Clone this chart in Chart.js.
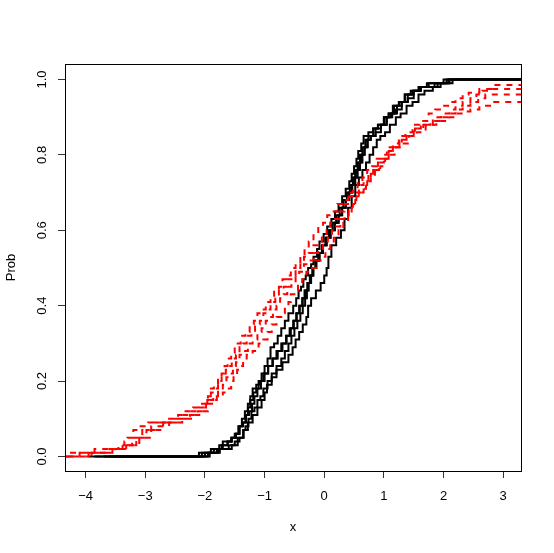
<!DOCTYPE html>
<html>
<head>
<meta charset="utf-8">
<script src="https://cdn.jsdelivr.net/npm/chart.js@4/dist/chart.umd.min.js"></script>
<style>
  html, body { margin: 0; padding: 0; background: #fff; }
  #wrap { width: 554px; height: 553px; position: relative; }
</style>
</head>
<body>
<div id="wrap"><canvas id="ecdfChart" width="554" height="553"></canvas></div>
<script>
// ECDF knots: [x, cumulative probability]
const black1 = [[-3.95,0],[-2.1,0.01],[-1.8,0.02],[-1.7,0.03],[-1.62,0.04],[-1.55,0.05],[-1.5,0.06],[-1.44,0.08],[-1.38,0.1],[-1.33,0.12],[-1.28,0.14],[-1.24,0.16],[-1.2,0.18],[-1.1,0.2],[-1.05,0.22],[-1.0,0.24],[-0.95,0.26],[-0.9,0.29],[-0.84,0.3],[-0.78,0.32],[-0.72,0.34],[-0.66,0.36],[-0.6,0.38],[-0.52,0.4],[-0.47,0.42],[-0.43,0.44],[-0.39,0.45],[-0.35,0.47],[-0.31,0.48],[-0.27,0.5],[-0.22,0.51],[-0.18,0.53],[-0.12,0.55],[-0.08,0.57],[-0.01,0.59],[0.05,0.61],[0.12,0.63],[0.18,0.65],[0.24,0.67],[0.3,0.69],[0.36,0.71],[0.42,0.73],[0.46,0.75],[0.5,0.77],[0.54,0.79],[0.57,0.81],[0.62,0.83],[0.66,0.85],[0.74,0.86],[0.82,0.87],[0.9,0.88],[1.0,0.9],[1.08,0.91],[1.15,0.93],[1.25,0.94],[1.35,0.96],[1.48,0.97],[1.6,0.98],[1.85,0.99],[2.05,1.0],[3.5,1.0]];
const black2 = [[-3.6,0],[-1.95,0.01],[-1.75,0.02],[-1.55,0.03],[-1.45,0.05],[-1.35,0.07],[-1.28,0.09],[-1.2,0.11],[-1.12,0.13],[-1.05,0.15],[-1.0,0.17],[-0.96,0.19],[-0.88,0.21],[-0.8,0.23],[-0.7,0.25],[-0.6,0.27],[-0.53,0.29],[-0.48,0.31],[-0.42,0.33],[-0.36,0.35],[-0.3,0.37],[-0.27,0.4],[-0.22,0.42],[-0.14,0.44],[-0.06,0.46],[0.0,0.48],[0.04,0.5],[0.07,0.53],[0.12,0.56],[0.2,0.58],[0.28,0.6],[0.34,0.63],[0.4,0.66],[0.46,0.69],[0.52,0.72],[0.58,0.74],[0.64,0.76],[0.7,0.78],[0.76,0.8],[0.82,0.82],[0.88,0.84],[0.94,0.85],[1.02,0.86],[1.1,0.88],[1.2,0.9],[1.28,0.91],[1.38,0.93],[1.48,0.94],[1.58,0.96],[1.68,0.97],[1.82,0.98],[1.95,0.99],[2.15,1.0],[3.5,1.0]];
const black3 = [[-3.85,0],[-2.0,0.01],[-1.85,0.02],[-1.76,0.03],[-1.7,0.04],[-1.56,0.05],[-1.48,0.06],[-1.42,0.08],[-1.36,0.09],[-1.31,0.11],[-1.26,0.12],[-1.21,0.14],[-1.17,0.16],[-1.12,0.18],[-1.06,0.2],[-1.0,0.22],[-0.94,0.24],[-0.87,0.26],[-0.8,0.28],[-0.72,0.3],[-0.64,0.32],[-0.58,0.34],[-0.52,0.36],[-0.47,0.38],[-0.42,0.4],[-0.37,0.42],[-0.33,0.44],[-0.28,0.46],[-0.24,0.48],[-0.19,0.5],[-0.14,0.52],[-0.08,0.54],[-0.03,0.56],[0.04,0.58],[0.1,0.6],[0.17,0.62],[0.24,0.64],[0.3,0.66],[0.36,0.68],[0.41,0.7],[0.46,0.72],[0.5,0.74],[0.55,0.76],[0.58,0.78],[0.62,0.8],[0.67,0.82],[0.72,0.84],[0.78,0.85],[0.86,0.87],[0.95,0.88],[1.05,0.9],[1.14,0.91],[1.22,0.93],[1.3,0.94],[1.4,0.96],[1.5,0.97],[1.62,0.98],[1.9,0.99],[2.1,1.0],[3.5,1.0]];
const black4 = [[-3.5,0],[-1.92,0.01],[-1.78,0.02],[-1.6,0.03],[-1.5,0.04],[-1.42,0.05],[-1.36,0.07],[-1.32,0.08],[-1.27,0.1],[-1.22,0.12],[-1.17,0.13],[-1.12,0.15],[-1.07,0.16],[-1.02,0.18],[-0.95,0.2],[-0.88,0.22],[-0.8,0.24],[-0.72,0.26],[-0.66,0.28],[-0.6,0.3],[-0.55,0.32],[-0.5,0.34],[-0.45,0.36],[-0.4,0.38],[-0.36,0.4],[-0.32,0.42],[-0.29,0.44],[-0.26,0.46],[-0.22,0.48],[-0.18,0.5],[-0.13,0.52],[-0.08,0.54],[-0.02,0.56],[0.04,0.58],[0.11,0.6],[0.18,0.62],[0.24,0.64],[0.3,0.66],[0.36,0.68],[0.42,0.7],[0.47,0.72],[0.52,0.74],[0.56,0.76],[0.6,0.78],[0.64,0.8],[0.68,0.82],[0.73,0.84],[0.78,0.85],[0.86,0.86],[0.95,0.88],[1.04,0.9],[1.12,0.91],[1.2,0.92],[1.3,0.94],[1.4,0.95],[1.5,0.97],[1.62,0.98],[1.75,0.99],[2.0,1.0],[3.5,1.0]];
const black5 = [[-3.7,0],[-2.05,0.01],[-1.9,0.02],[-1.72,0.03],[-1.62,0.04],[-1.55,0.05],[-1.48,0.06],[-1.42,0.08],[-1.37,0.09],[-1.32,0.11],[-1.28,0.13],[-1.24,0.15],[-1.19,0.17],[-1.14,0.19],[-1.08,0.2],[-1.02,0.22],[-0.94,0.24],[-0.86,0.26],[-0.78,0.28],[-0.7,0.3],[-0.63,0.32],[-0.56,0.34],[-0.51,0.36],[-0.46,0.38],[-0.41,0.4],[-0.36,0.42],[-0.32,0.44],[-0.28,0.46],[-0.24,0.48],[-0.2,0.5],[-0.15,0.52],[-0.1,0.54],[-0.04,0.56],[0.02,0.58],[0.08,0.6],[0.14,0.62],[0.2,0.64],[0.26,0.66],[0.32,0.68],[0.38,0.7],[0.43,0.72],[0.48,0.74],[0.52,0.76],[0.56,0.78],[0.6,0.8],[0.64,0.82],[0.69,0.84],[0.74,0.85],[0.82,0.87],[0.9,0.88],[1.0,0.9],[1.08,0.91],[1.17,0.93],[1.26,0.94],[1.35,0.96],[1.45,0.97],[1.58,0.98],[1.72,0.99],[2.08,1.0],[3.5,1.0]];

const red1 = [[-4.6,0],[-4.3,0.01],[-3.85,0.02],[-3.45,0.03],[-3.35,0.04],[-3.3,0.05],[-3.2,0.07],[-3.12,0.08],[-2.95,0.09],[-2.62,0.1],[-2.45,0.11],[-2.35,0.12],[-2.2,0.13],[-2.08,0.14],[-1.98,0.15],[-1.95,0.16],[-1.9,0.18],[-1.85,0.19],[-1.78,0.21],[-1.72,0.22],[-1.67,0.24],[-1.62,0.26],[-1.56,0.27],[-1.5,0.29],[-1.45,0.3],[-1.4,0.32],[-1.32,0.33],[-1.25,0.35],[-1.18,0.36],[-1.12,0.38],[-1.05,0.39],[-0.98,0.41],[-0.9,0.42],[-0.84,0.44],[-0.76,0.45],[-0.7,0.47],[-0.63,0.48],[-0.56,0.5],[-0.48,0.51],[-0.4,0.53],[-0.33,0.55],[-0.26,0.57],[-0.18,0.59],[-0.1,0.61],[-0.02,0.62],[0.05,0.64],[0.14,0.65],[0.22,0.67],[0.32,0.68],[0.4,0.7],[0.48,0.71],[0.56,0.73],[0.64,0.74],[0.72,0.76],[0.8,0.77],[0.88,0.79],[0.96,0.8],[1.05,0.82],[1.15,0.83],[1.25,0.85],[1.36,0.86],[1.48,0.88],[1.6,0.89],[1.75,0.91],[1.86,0.92],[1.98,0.93],[2.1,0.94],[2.2,0.95],[2.32,0.96],[2.42,0.965],[2.6,0.975],[2.85,0.985],[3.5,0.985]];
const red2 = [[-4.5,0],[-4.1,0.01],[-3.6,0.02],[-3.38,0.03],[-3.22,0.05],[-3.05,0.07],[-2.85,0.09],[-2.5,0.1],[-2.38,0.11],[-2.25,0.12],[-2.1,0.13],[-2.02,0.14],[-1.96,0.15],[-1.9,0.17],[-1.84,0.18],[-1.78,0.2],[-1.72,0.21],[-1.65,0.23],[-1.6,0.24],[-1.55,0.26],[-1.48,0.27],[-1.42,0.29],[-1.36,0.3],[-1.3,0.32],[-1.22,0.33],[-1.16,0.35],[-1.08,0.36],[-1.02,0.38],[-0.96,0.39],[-0.9,0.41],[-0.82,0.42],[-0.76,0.44],[-0.68,0.45],[-0.62,0.47],[-0.55,0.48],[-0.48,0.5],[-0.4,0.51],[-0.34,0.53],[-0.26,0.54],[-0.18,0.56],[-0.1,0.57],[-0.04,0.59],[0.04,0.6],[0.1,0.62],[0.18,0.63],[0.26,0.65],[0.34,0.67],[0.42,0.69],[0.5,0.7],[0.58,0.72],[0.66,0.73],[0.74,0.75],[0.82,0.76],[0.9,0.78],[0.98,0.79],[1.08,0.81],[1.2,0.82],[1.3,0.84],[1.42,0.85],[1.52,0.87],[1.66,0.88],[1.82,0.9],[1.96,0.91],[2.1,0.92],[2.2,0.93],[2.32,0.94],[2.45,0.95],[2.55,0.96],[2.65,0.97],[2.75,0.975],[3.5,0.975]];
const red3 = [[-4.4,0],[-3.95,0.01],[-3.5,0.02],[-3.32,0.03],[-3.15,0.05],[-2.98,0.07],[-2.7,0.09],[-2.42,0.1],[-2.25,0.11],[-2.12,0.12],[-2.04,0.13],[-1.98,0.14],[-1.92,0.15],[-1.86,0.16],[-1.78,0.18],[-1.7,0.19],[-1.64,0.21],[-1.58,0.22],[-1.53,0.24],[-1.48,0.25],[-1.42,0.27],[-1.36,0.28],[-1.28,0.3],[-1.2,0.31],[-1.12,0.33],[-1.05,0.34],[-0.98,0.36],[-0.92,0.37],[-0.86,0.39],[-0.8,0.4],[-0.74,0.42],[-0.68,0.43],[-0.62,0.45],[-0.55,0.46],[-0.48,0.48],[-0.42,0.49],[-0.34,0.51],[-0.26,0.52],[-0.18,0.54],[-0.1,0.55],[-0.02,0.57],[0.06,0.58],[0.13,0.6],[0.2,0.61],[0.27,0.63],[0.34,0.64],[0.41,0.66],[0.48,0.67],[0.54,0.69],[0.6,0.7],[0.66,0.72],[0.72,0.73],[0.78,0.75],[0.85,0.76],[0.92,0.78],[1.0,0.79],[1.08,0.81],[1.15,0.82],[1.26,0.84],[1.38,0.85],[1.5,0.87],[1.62,0.88],[1.78,0.89],[1.95,0.9],[2.08,0.91],[2.2,0.92],[2.32,0.93],[2.45,0.94],[2.58,0.95],[2.7,0.96],[3.5,0.96]];
const red4 = [[-4.3,0],[-3.9,0.01],[-3.55,0.02],[-3.28,0.03],[-3.1,0.05],[-2.9,0.08],[-2.6,0.09],[-2.38,0.1],[-2.2,0.11],[-2.05,0.12],[-1.95,0.14],[-1.88,0.15],[-1.8,0.16],[-1.7,0.17],[-1.62,0.18],[-1.56,0.2],[-1.52,0.21],[-1.46,0.23],[-1.42,0.24],[-1.36,0.26],[-1.3,0.27],[-1.2,0.28],[-1.1,0.3],[-1.02,0.31],[-0.95,0.33],[-0.88,0.35],[-0.8,0.37],[-0.72,0.38],[-0.66,0.4],[-0.6,0.41],[-0.56,0.43],[-0.5,0.44],[-0.44,0.46],[-0.37,0.47],[-0.3,0.49],[-0.22,0.5],[-0.14,0.52],[-0.06,0.53],[0.02,0.55],[0.1,0.56],[0.16,0.58],[0.24,0.6],[0.32,0.62],[0.4,0.64],[0.46,0.66],[0.52,0.68],[0.58,0.7],[0.64,0.71],[0.7,0.73],[0.78,0.74],[0.85,0.76],[0.94,0.77],[1.02,0.79],[1.1,0.8],[1.18,0.82],[1.3,0.83],[1.4,0.85],[1.55,0.86],[1.7,0.88],[1.88,0.89],[2.05,0.9],[2.2,0.91],[2.32,0.915],[2.45,0.92],[2.6,0.93],[2.85,0.94],[3.5,0.94]];

// axis ticks
const xTicks = [-4, -3, -2, -1, 0, 1, 2, 3];
const yTicks = [0, 0.2, 0.4, 0.6, 0.8, 1.0];

const FONT = { family: "'Liberation Sans', Arial, Helvetica, sans-serif", size: 13 };

function toPoints(knots) {
    return knots.map(k => ({ x: k[0], y: k[1] }));
}

function stepSet(knots, color, dashed) {
    return {
        data: toPoints(knots),
        borderColor: color,
        borderWidth: 2,
        borderDash: dashed ? [6, 6] : [],
        stepped: true,
        pointRadius: 0,
        fill: false,
        clip: 0
    };
}

// plot frame like R's box()
const boxPlugin = {
    id: 'box',
    afterDraw(chart) {
        const a = chart.chartArea;
        const c = chart.ctx;
        c.save();
        c.strokeStyle = '#000';
        c.lineWidth = 1;
        c.strokeRect(Math.round(a.left) + 0.5, Math.round(a.top) + 0.5,
            Math.round(a.right - a.left), Math.round(a.bottom - a.top));
        c.restore();
    }
};

const ctx = document.getElementById('ecdfChart').getContext('2d');

new Chart(ctx, {
    type: 'line',
    data: {
        datasets: [
            stepSet(red1, '#ff0000', true),
            stepSet(red2, '#ff0000', true),
            stepSet(red3, '#ff0000', true),
            stepSet(red4, '#ff0000', true),
            stepSet(black1, '#000000', false),
            stepSet(black2, '#000000', false),
            stepSet(black3, '#000000', false),
            stepSet(black4, '#000000', false),
            stepSet(black5, '#000000', false)
        ]
    },
    options: {
        responsive: false,
        animation: false,
        layout: { padding: { left: 0, right: 33, top: 64, bottom: 0 } },
        plugins: {
            legend: { display: false },
            tooltip: { enabled: false }
        },
        scales: {
            x: {
                type: 'linear',
                min: -4.345,
                max: 3.298,
                afterFit(scale) { scale.height = 82; },
                afterBuildTicks(scale) { scale.ticks = xTicks.map(v => ({ value: v })); },
                border: { display: false },
                grid: { drawOnChartArea: false, tickLength: 7, color: '#333', lineWidth: 1 },
                ticks: {
                    color: '#000',
                    font: FONT,
                    padding: 11,
                    maxRotation: 0,
                    callback: v => (v < 0 ? '\u2212' + Math.abs(v) : String(v))
                },
                title: {
                    display: true,
                    text: 'x',
                    color: '#000',
                    font: FONT,
                    padding: { top: 18, bottom: 18 }
                }
            },
            y: {
                type: 'linear',
                min: -0.0385,
                max: 1.041,
                afterFit(scale) { scale.width = 65; },
                afterBuildTicks(scale) { scale.ticks = yTicks.map(v => ({ value: v })); },
                border: { display: false },
                grid: { drawOnChartArea: false, tickLength: 7, color: '#333', lineWidth: 1 },
                ticks: {
                    color: '#000',
                    font: FONT,
                    padding: 7,
                    minRotation: 90,
                    maxRotation: 90,
                    crossAlign: 'center',
                    callback: v => v.toFixed(1)
                },
                title: {
                    display: true,
                    text: 'Prob',
                    color: '#000',
                    font: FONT,
                    padding: { top: 4, bottom: 4 }
                }
            }
        }
    },
    plugins: [boxPlugin]
});
</script>
</body>
</html>
